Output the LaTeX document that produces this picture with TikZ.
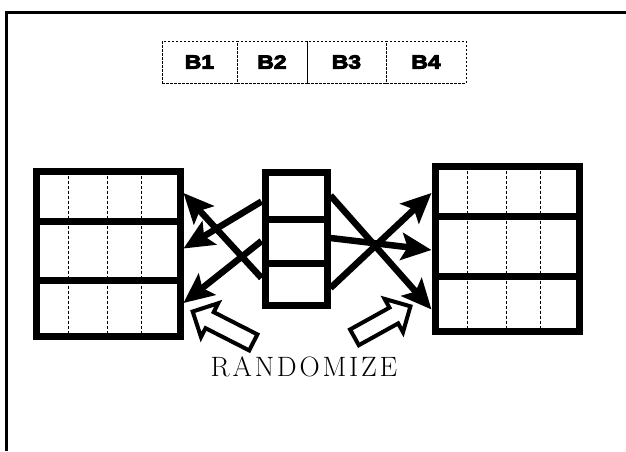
\documentclass[tikz,border=0pt]{standalone}
\usepackage{fontspec}
\newfontfamily\blockfont[BoldFeatures={FakeBold=5, FakeStretch=1.2}]{Liberation Sans}
\newfontfamily\spacedfont[LetterSpace=10]{Latin Modern Roman}
\usetikzlibrary{arrows.meta, shapes.arrows, calc}

\begin{document}
\begin{tikzpicture}[
  x=1pt, y=-1pt,
  row/.style={draw, line width=7pt, minimum width=#1, inner sep=0pt},
  blk/.style={draw, dash pattern=on 2.5pt off 1.5pt, line width=0.7pt, minimum height=42pt,
              inner sep=0pt, font=\blockfont\bfseries\fontsize{19}{20}\selectfont},
  grid/.style={dash pattern=on 3pt off 2pt, line width=0.8pt},
  arr/.style={-{Stealth[length=30pt,width=27pt,inset=6pt]}, line width=6.5pt},
  hollow/.style={single arrow, draw, fill=white, line width=4pt, inner sep=7pt,
                 single arrow head extend=10pt}
]
\useasboundingbox (0,0) rectangle (626,451);
\draw[line width=3pt] (6,451) -- (6,12) -- (626,12);

% blocks
\node[blk, minimum width=75pt] (B1) at (199.5,62) {B1};
\node[blk, minimum width=70pt] (B2) at (272,62) {B2};
\node[blk, minimum width=79pt] (B3) at (346.5,62) {B3};
\node[blk, minimum width=80pt] (B4) at (426,62) {B4};

% left table
\node[row=144pt, minimum height=50pt] (L1) at (108,196) {};
\node[row=144pt, minimum height=59pt] (L2) at (108,250.5) {};
\node[row=144pt, minimum height=56pt] (L3) at (108,308) {};
% right table
\node[row=144pt, minimum height=50pt] (R1) at (507,191) {};
\node[row=144pt, minimum height=60pt] (R2) at (507,246) {};
\node[row=144pt, minimum height=55pt] (R3) at (507,303.5) {};
% middle
\node[row=62pt, minimum height=47pt] (M1) at (296,195.5) {};
\node[row=62pt, minimum height=44pt] (M2) at (296,241) {};
\node[row=62pt, minimum height=42pt] (M3) at (296,284) {};

\foreach \t in {L,R}
  \foreach \dx in {35.5,74.5,108.5}
    \draw[grid] ($(\t1.north west)+(\dx,3)$) -- ($(\t3.south west)+(\dx,-3)$);

\draw[arr] ($(M1.west)+(0,6)$) -- ($(L2.east)+(0,-2)$);
\draw[arr] (M2.west) -- ($(L3.east)+(0,-5)$);
\draw[arr] ($(M3.west)+(0,-6)$) -- ($(L1.east)+(0,-3)$);
\draw[arr] (M1.east) -- ($(R3.west)+(0,6)$);
\draw[arr] ($(M2.east)+(0,-3)$) -- ($(R2.west)+(0,4)$);
\draw[arr] ($(M3.east)+(0,4)$) -- ($(R1.west)+(0,2)$);

\node[hollow, minimum height=68pt, rotate=153] (shuffleL) at (227,329) {};
\node[hollow, minimum height=64pt, rotate=29] (shuffleR) at (378.5,324) {};
\node[anchor=base, inner sep=0pt,
      font=\spacedfont\fontsize{28}{30}\selectfont] (rnd) at (304,376) {RANDOMIZE};
\end{tikzpicture}
\end{document}
